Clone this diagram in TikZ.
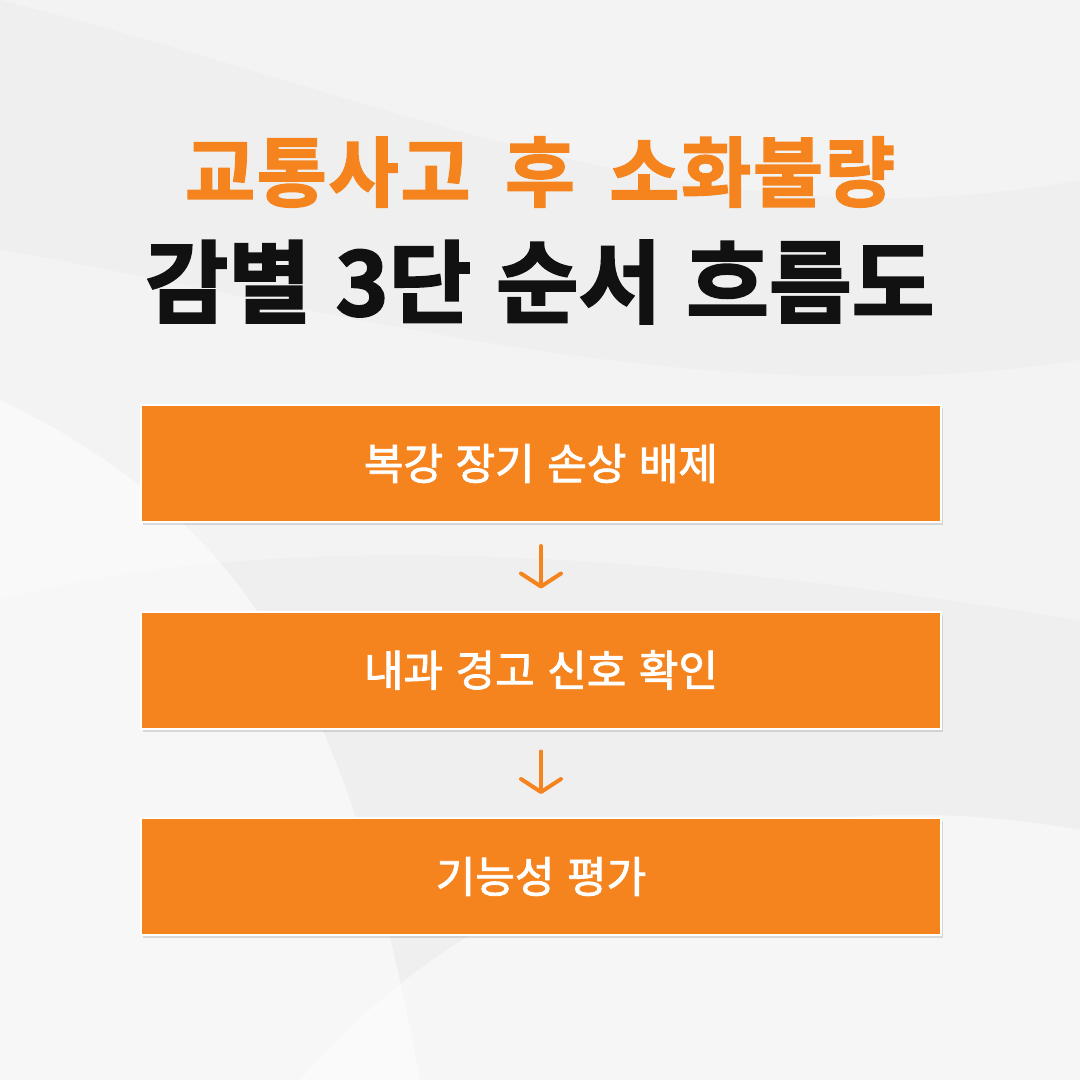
\documentclass[tikz,border=0pt]{standalone}
\usepackage{fontspec}
\newfontfamily\cjkbox[FakeBold=2,WordSpace=1.3]{Noto Sans CJK KR}
\newfontfamily\cjkheavyA[FakeBold=2.2,LetterSpace=2.5,WordSpace=1.8]{Noto Sans CJK KR Bold}
\newfontfamily\cjkheavy[FakeBold=2.2,WordSpace=1.2]{Noto Sans CJK KR Bold}
\usetikzlibrary{arrows.meta,shadows}
\definecolor{bg}{HTML}{EFEFEF}
\definecolor{org}{HTML}{F5841F}
\definecolor{ink}{HTML}{111111}
\tikzset{
  stepbox/.style={draw=white,line width=2pt,fill=org,minimum width=800pt,minimum height=117pt,inner sep=0pt,
    drop shadow={shadow xshift=2pt,shadow yshift=-3pt,opacity=0.12,fill=black},
    text=white,font=\cjkbox\fontsize{43}{50}\selectfont},
  flow/.style={draw=org,line width=4pt,line cap=round,-{Straight Barb[length=13pt,width=40pt,line width=4pt,round]}},
  titleA/.style={text=org,font=\cjkheavyA\fontsize{76}{84}\selectfont,inner sep=0pt},
  titleB/.style={text=ink,font=\cjkheavy\fontsize{90}{98}\selectfont,inner sep=0pt}
}
\begin{document}
\begin{tikzpicture}[x=1pt,y=-1pt]
\useasboundingbox (0,0) rectangle (1080,1080);
\fill[bg] (0,0) rectangle (1080,1080);
% soft background swooshes
\fill[white,opacity=0.55] (0,400) .. controls (250,520) and (350,700) .. (420,1080) -- (0,1080) -- cycle;
\fill[white,opacity=0.25] (0,0) .. controls (400,100) and (700,250) .. (1080,180) -- (1080,0) -- cycle;
\fill[white,opacity=0.45] (300,1080) .. controls (500,850) and (800,780) .. (1080,830) -- (1080,1080) -- cycle;
\fill[white,opacity=0.25] (0,250) .. controls (300,300) and (700,420) .. (1080,360) -- (1080,620) .. controls (700,560) and (300,520) .. (0,600) -- cycle;
\node[titleA] (t1) at (540,172) {교통사고 후 소화불량};
\node[titleB] (t2) at (540,282) {감별 3단 순서 흐름도};
\node[stepbox] (b1) at (541,463.5) {복강 장기 손상 배제};
\node[stepbox] (b2) at (541,670) {내과 경고 신호 확인};
\node[stepbox] (b3) at (541,876.5) {기능성 평가};
\draw[flow] ([yshift=-23pt]b1.south) -- ([yshift=22pt]b2.north);
\draw[flow] ([yshift=-22pt]b2.south) -- ([yshift=23pt]b3.north);
\end{tikzpicture}
\end{document}
